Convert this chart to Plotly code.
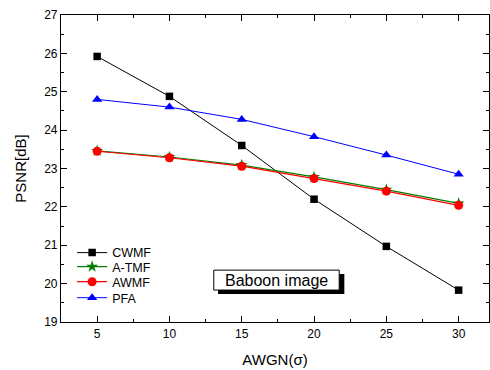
import plotly.graph_objects as go

sigma = [5, 10, 15, 20, 25, 30]
cwmf = [25.92, 24.88, 23.60, 22.20, 20.97, 19.83]
atmf = [23.46, 23.30, 23.09, 22.78, 22.45, 22.09]
awmf = [23.45, 23.28, 23.06, 22.74, 22.41, 22.04]
pfa = [24.80, 24.60, 24.28, 23.83, 23.35, 22.85]
x_ticks = [5, 10, 15, 20, 25, 30]
y_ticks = [19, 20, 21, 22, 23, 24, 25, 26, 27]

font = "Liberation Sans, Arial, sans-serif"
fig = go.Figure()
fig.add_trace(go.Scatter(x=sigma, y=cwmf, name="CWMF", mode="lines+markers", legend="legend",
                         showlegend=True,
                         line=dict(color="black", width=1),
                         marker=dict(symbol="square", size=7.5, color="black")))
fig.add_trace(go.Scatter(x=sigma, y=atmf, name="A-TMF", mode="lines+markers", legend="legend2",
                         showlegend=True,
                         line=dict(color="green", width=1.2),
                         marker=dict(symbol="star", size=9, color="green")))
fig.add_trace(go.Scatter(x=sigma, y=awmf, name="AWMF", mode="lines+markers", legend="legend3",
                         showlegend=True,
                         line=dict(color="red", width=1.2),
                         marker=dict(symbol="circle", size=9, color="red")))
fig.add_trace(go.Scatter(x=sigma, y=pfa, name="PFA", mode="lines+markers", legend="legend4",
                         showlegend=True,
                         line=dict(color="blue", width=1),
                         marker=dict(symbol="triangle-up", size=9, color="blue")))

axis_common = dict(showline=True, linecolor="black", linewidth=1.2, mirror="ticks",
                   ticks="inside", ticklen=6, tickcolor="black", showgrid=False,
                   zeroline=False, tickfont=dict(family=font, size=12, color="black"))
fig.update_xaxes(range=[2.5, 32.1], tickvals=x_ticks,
                 minor=dict(ticks="inside", ticklen=3, dtick=2.5, tick0=2.5, tickcolor="black"),
                 title=dict(text="AWGN(σ)", font=dict(family=font, size=15, color="black"), standoff=14),
                 **axis_common)
fig.update_yaxes(range=[19, 27], tickvals=y_ticks,
                 minor=dict(ticks="inside", ticklen=3, dtick=0.5, tickcolor="black"),
                 title=dict(text="PSNR[dB]", font=dict(family=font, size=15, color="black"), standoff=13),
                 **axis_common)

# shadowed label box
fig.add_shape(type="rect", xref="paper", yref="paper", x0=0.367, x1=0.662, y0=0.091, y1=0.156,
              fillcolor="black", line=dict(width=0))
fig.add_shape(type="rect", xref="paper", yref="paper", x0=0.357, x1=0.650, y0=0.104, y1=0.169,
              fillcolor="white", line=dict(color="black", width=1))
fig.add_annotation(xref="paper", yref="paper", x=0.5035, y=0.1365, text="Baboon image",
                   xanchor="center", yanchor="middle",
                   showarrow=False, font=dict(family=font, size=16, color="black"))

leg_common = dict(x=0.026, xanchor="left", yanchor="middle", bgcolor="rgba(0,0,0,0)",
                  itemwidth=30, font=dict(family=font, size=12.5, color="black"))
fig.update_layout(width=490, height=370, margin=dict(l=61, r=1, t=15, b=48),
                  plot_bgcolor="white", paper_bgcolor="white", showlegend=True,
                  legend=dict(y=0.2248, **leg_common),
                  legend2=dict(y=0.179, **leg_common),
                  legend3=dict(y=0.130, **leg_common),
                  legend4=dict(y=0.078, **leg_common),
                  font=dict(family=font))
fig.write_html("out.html", config={"displayModeBar": False},
               post_script="document.body.style.margin='0';")
